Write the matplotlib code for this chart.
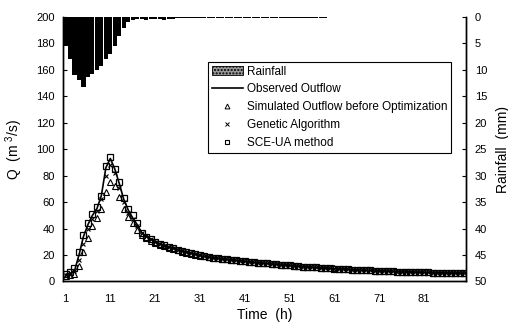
import matplotlib
matplotlib.use("Agg")
import matplotlib.pyplot as plt
from matplotlib.patches import Patch
from matplotlib.lines import Line2D

plt.rcParams['font.family'] = ['Liberation Sans', 'DejaVu Sans']
plt.rcParams['mathtext.default'] = 'regular'

hours = list(range(1, 91))

rainfall = [5.5, 8.0, 11.0, 12.0, 13.3, 11.3, 10.8, 10.0, 9.3, 8.0,
            7.0, 5.5, 3.5, 2.0, 1.0, 0.6, 0.4, 0.3, 0.5, 0.4,
            0.3, 0.3, 0.6, 0.4, 0.3, 0.1, 0.1, 0.1, 0.1, 0.1,
            0.1, 0.1, 0.1, 0.1, 0.1, 0.1, 0.1, 0.1, 0.1, 0.1,
            0.1, 0.1, 0.1, 0.1, 0.1, 0.1, 0.1, 0.1, 0.1, 0.1,
            0.1, 0.1, 0.1, 0.1, 0.1, 0.1, 0.1, 0.1, 0.1, 0.0,
            0.0, 0.0, 0.0, 0.0, 0.0, 0.0, 0.0, 0.0, 0.0, 0.0,
            0.0, 0.0, 0.0, 0.0, 0.0, 0.0, 0.0, 0.0, 0.0, 0.0,
            0.0, 0.0, 0.0, 0.0, 0.0, 0.0, 0.0, 0.0, 0.0, 0.0]

observed = [5.0, 6.0, 8.0, 20.0, 34.0, 43.0, 50.0, 55.0, 65.0, 86.0,
            93.0, 85.0, 74.0, 62.0, 54.0, 48.0, 43.0, 37.0, 34.0, 32.0,
            30.0, 28.5, 27.0, 26.0, 25.0, 24.0, 23.0, 22.0, 21.5, 20.5,
            19.5, 19.0, 18.5, 18.0, 17.5, 17.0, 16.7, 16.3, 16.0, 15.6,
            15.2, 14.8, 14.5, 14.2, 13.9, 13.6, 13.3, 13.0, 12.7, 12.4,
            12.1, 11.8, 11.5, 11.2, 11.0, 10.8, 10.5, 10.3, 10.1, 9.9,
            9.7, 9.5, 9.3, 9.1, 8.9, 8.7, 8.5, 8.4, 8.3, 8.1,
            8.0, 7.9, 7.8, 7.6, 7.5, 7.4, 7.3, 7.2, 7.1, 7.0,
            6.9, 6.8, 6.7, 6.6, 6.6, 6.5, 6.4, 6.4, 6.3, 6.3]

simulated_before = [4.0, 5.0, 6.0, 12.0, 22.0, 33.0, 42.0, 48.0, 55.0, 68.0,
                    75.0, 72.0, 64.0, 55.0, 49.0, 44.0, 39.0, 35.0, 32.5, 30.5,
                    29.0, 27.5, 26.5, 25.5, 24.5, 23.5, 22.5, 21.8, 21.0, 20.2,
                    19.5, 19.0, 18.5, 18.0, 17.6, 17.2, 16.8, 16.4, 16.0, 15.7,
                    15.3, 15.0, 14.7, 14.3, 14.0, 13.7, 13.4, 13.1, 12.8, 12.5,
                    12.2, 11.9, 11.6, 11.3, 11.1, 10.8, 10.6, 10.4, 10.2, 10.0,
                    9.8, 9.6, 9.4, 9.2, 9.0, 8.8, 8.6, 8.5, 8.3, 8.2,
                    8.0, 7.9, 7.8, 7.7, 7.5, 7.4, 7.3, 7.2, 7.1, 7.0,
                    6.9, 6.8, 6.7, 6.7, 6.6, 6.5, 6.5, 6.4, 6.3, 6.3]

genetic_algorithm = [5.0, 6.0, 8.0, 16.0, 28.0, 40.0, 47.0, 53.0, 62.0, 80.0,
                     88.0, 82.0, 71.0, 60.0, 52.0, 47.0, 42.0, 37.0, 34.0, 32.0,
                     30.0, 28.5, 27.0, 26.0, 25.0, 24.0, 23.0, 22.0, 21.3, 20.5,
                     19.7, 19.1, 18.6, 18.1, 17.6, 17.1, 16.7, 16.3, 16.0, 15.6,
                     15.2, 14.9, 14.5, 14.2, 13.9, 13.6, 13.3, 13.0, 12.7, 12.4,
                     12.1, 11.8, 11.5, 11.3, 11.0, 10.8, 10.6, 10.3, 10.1, 9.9,
                     9.7, 9.5, 9.3, 9.1, 8.9, 8.7, 8.6, 8.4, 8.3, 8.1,
                     8.0, 7.9, 7.8, 7.6, 7.5, 7.4, 7.3, 7.2, 7.1, 7.0,
                     6.9, 6.8, 6.7, 6.6, 6.6, 6.5, 6.4, 6.4, 6.3, 6.3]

sce_ua = [6.0, 7.0, 10.0, 22.0, 35.0, 44.0, 51.0, 56.0, 65.0, 87.0,
          94.0, 85.0, 75.0, 63.0, 55.0, 50.0, 44.0, 37.0, 33.5, 32.0,
          30.0, 28.5, 27.2, 26.2, 25.0, 24.0, 23.0, 22.2, 21.4, 20.6,
          19.8, 19.2, 18.6, 18.1, 17.6, 17.1, 16.7, 16.3, 15.9, 15.6,
          15.2, 14.9, 14.5, 14.2, 13.9, 13.6, 13.3, 13.0, 12.7, 12.4,
          12.1, 11.8, 11.5, 11.3, 11.0, 10.8, 10.6, 10.3, 10.1, 9.9,
          9.7, 9.5, 9.3, 9.1, 8.9, 8.7, 8.6, 8.4, 8.3, 8.1,
          8.0, 7.9, 7.8, 7.6, 7.5, 7.4, 7.3, 7.2, 7.1, 7.0,
          6.9, 6.8, 6.7, 6.6, 6.6, 6.5, 6.4, 6.4, 6.3, 6.3]

xtick_labels = [1, 11, 21, 31, 41, 51, 61, 71, 81]

fig = plt.figure(figsize=(5.08, 3.25), dpi=100)
ax = fig.add_axes([0.1246, 0.134, 0.7937, 0.8137])
ax2 = ax.twinx()

# Outflow series
ax.plot(hours, observed, color='black', lw=1.2, zorder=3)
ax.plot(hours, simulated_before, ls='none', marker='^', ms=4, mfc='none',
        mec='black', mew=0.8, zorder=4)
ax.plot(hours, genetic_algorithm, ls='none', marker='x', ms=3.5,
        color='black', mew=0.8, zorder=4)
ax.plot(hours, sce_ua, ls='none', marker='s', ms=4.5, mfc='none',
        mec='black', mew=0.9, zorder=5)

ax.set_xlim(0.5, 90.5)
ax.set_ylim(0, 200)
ax.set_yticks(range(0, 201, 20))
ax.set_xticks(xtick_labels)
ax.set_xticklabels([str(v) for v in xtick_labels])
ax.tick_params(axis='y', direction='in', length=3, labelsize=8, pad=6)
ax.tick_params(axis='x', length=0, labelsize=8, pad=9)

# Rainfall bars (inverted right axis)
ax2.bar(hours, rainfall, width=0.92, color='black', edgecolor='none')
ax2.set_ylim(50, 0)
ax2.set_yticks(range(0, 51, 5))
ax2.tick_params(axis='y', direction='in', length=3, labelsize=8, pad=6)

for a in (ax, ax2):
    a.spines['top'].set_visible(False)
    for s in ('left', 'right', 'bottom'):
        a.spines[s].set_linewidth(1.0)

ax.set_xlabel('Time  (h)', fontsize=10, labelpad=3)
ax.set_ylabel('Q  (m $^{3}$/s)', fontsize=10, labelpad=8)
ax2.set_ylabel('Rainfall  (mm)', fontsize=10, labelpad=6)

handles = [
    Patch(facecolor='#999999', edgecolor='black', hatch='.....', lw=0.6),
    Line2D([], [], color='black', lw=1.2),
    Line2D([], [], ls='none', marker='^', ms=3.5, mfc='none', mec='black', mew=0.7),
    Line2D([], [], ls='none', marker='x', ms=3.5, color='black', mew=0.7),
    Line2D([], [], ls='none', marker='s', ms=3.5, mfc='none', mec='black', mew=0.8),
]
labels = ['Rainfall', 'Observed Outflow', 'Simulated Outflow before Optimization',
          'Genetic Algorithm', 'SCE-UA method']
leg = ax2.legend(handles, labels, loc='upper left',
                 bbox_to_anchor=(208 / 508, 1 - 62 / 325),
                 bbox_transform=fig.transFigure, fontsize=8.5,
                 frameon=True, fancybox=False, framealpha=1,
                 edgecolor='black', handlelength=2.7, handletextpad=0.3,
                 labelspacing=0.5, borderpad=0.3, borderaxespad=0)
leg.get_frame().set_linewidth(0.8)

fig.savefig('out.png', dpi=100)
